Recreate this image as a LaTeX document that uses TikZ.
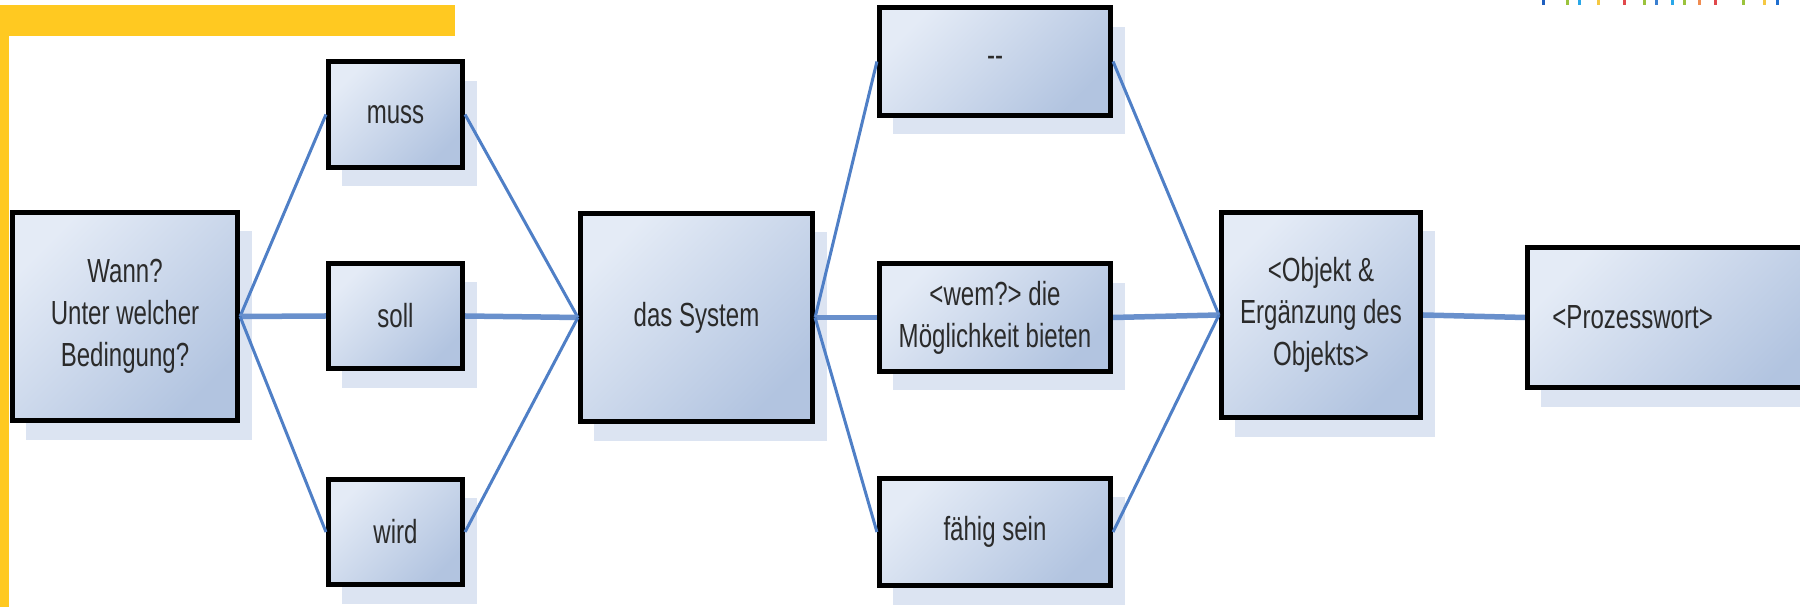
\documentclass[tikz,border=0pt]{standalone}
\usepackage{fontspec}
\setmainfont[FakeStretch=0.72]{Liberation Sans}
\usepackage{xcolor}
\usepackage{tikz}
\usetikzlibrary{shadows}
\definecolor{ReqYellow}{HTML}{FFC921}
\definecolor{ReqLink}{HTML}{4F7FC6}
\definecolor{ReqLinkH}{HTML}{6990CC}
\definecolor{ReqLight}{HTML}{E4EBF6}
\definecolor{ReqDark}{HTML}{B2C4E0}
\definecolor{ReqShadow}{HTML}{DCE4F2}
\definecolor{ReqText}{HTML}{2B2B2B}

\begin{document}
\begin{tikzpicture}[x=0.01cm,y=-0.01cm,
  reqbox/.style={draw=black,line width=0.05cm,top color=ReqLight,bottom color=ReqDark,shading angle=45,
    general shadow={fill=ReqShadow,shadow xshift=0.14cm,shadow yshift=-0.19cm},
    text=ReqText,align=center,inner sep=1pt,font=\fontsize{9.5}{12}\selectfont},
  small/.style={reqbox,minimum width=1.34cm,minimum height=1.05cm},
  wide/.style={reqbox,minimum width=2.31cm,minimum height=1.07cm},
  link/.style={ReqLink,line width=0.03cm},
  hlink/.style={ReqLinkH,line width=0.055cm}]
\path[use as bounding box] (0,0) rectangle (1800,607);
\fill[ReqYellow] (0,5) rectangle (455,36);
\fill[ReqYellow] (0,5) rectangle (9,607);
\foreach \tx/\tc in {1543/1F5FBF,1567/9BC33C,1579/2AA7E8,1598/F5C842,1624/E0484C,1644/9BC33C,1656/3A7FD0,1672/2AA7E8,1684/9BC33C,1699/F08C50,1715/E0484C,1743/9BC33C,1764/F5C842,1777/1F6FCF}{
  \definecolor{TickCol}{HTML}{\tc}
  \fill[TickCol] (\tx-1,0) rectangle (\tx+1.5,5);
}
\node[reqbox,minimum width=2.25cm,minimum height=2.08cm] (wann) at (125,316.5) {Wann?\\Unter welcher\\Bedingung?};
\node[small] (muss) at (395.5,114.5) {muss};
\node[small] (soll) at (395.5,316) {soll};
\node[small] (wird) at (395.5,532) {wird};
\node[reqbox,minimum width=2.32cm,minimum height=2.08cm] (system) at (696.5,317.5) {das System};
\node[wide] (leer) at (995,61.5) {{-}{-}};
\node[wide] (wem) at (995,317.5) {<wem?> die\\Möglichkeit bieten};
\node[wide] (faehig) at (995,532) {fähig sein};
\node[reqbox,minimum width=1.99cm,minimum height=2.05cm] (objekt) at (1321,315) {<Objekt \&\\Ergänzung des\\Objekts>};
\node[reqbox,minimum width=3.0cm,minimum height=1.40cm,text width=2.9cm,align=left] (prozess) at (1677.5,317.5) {\hspace*{0.2cm}<Prozesswort>};
\draw[link] (wann.east) -- (muss.west);
\draw[hlink] (wann.east) -- (soll.west);
\draw[link] (wann.east) -- (wird.west);
\draw[link] (muss.east) -- (system.west);
\draw[hlink] (soll.east) -- (system.west);
\draw[link] (wird.east) -- (system.west);
\draw[link] (system.east) -- (leer.west);
\draw[hlink] (system.east) -- (wem.west);
\draw[link] (system.east) -- (faehig.west);
\draw[link] (leer.east) -- (objekt.west);
\draw[hlink] (wem.east) -- (objekt.west);
\draw[link] (faehig.east) -- (objekt.west);
\draw[hlink] (objekt.east) -- (prozess.west);
\end{tikzpicture}
\end{document}
